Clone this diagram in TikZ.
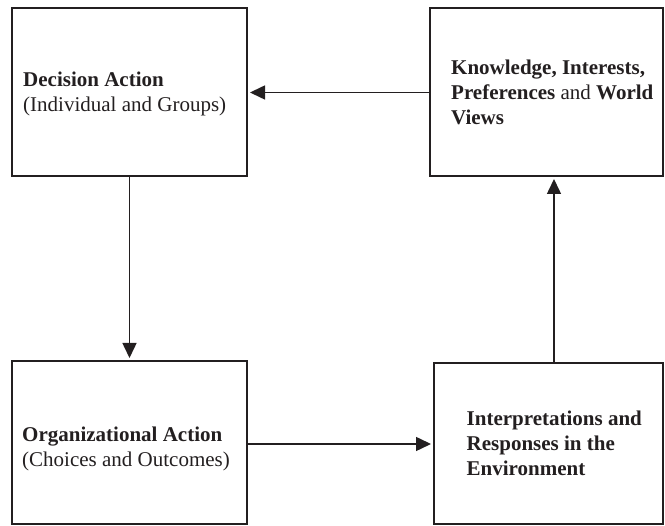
\documentclass[tikz,border=0pt]{standalone}
\usepackage{fontspec}
\setmainfont{Liberation Serif}
\usetikzlibrary{arrows.meta}
\definecolor{ink}{HTML}{231F20}
\begin{document}
\begin{tikzpicture}[x=1pt,y=-1pt,
  box/.style={draw=ink,line width=1.7pt,fill=none},
  label/.style={anchor=north west,inner sep=0pt,align=left,text=ink,
    font=\fontsize{21}{25}\selectfont},
  conn/.style={draw=ink,line width=1.5pt,-{Triangle[length=15pt,width=14pt]},shorten >=3pt}]
\useasboundingbox (0,0) rectangle (665,526);
% boxes
\draw[box] (12,8) rectangle (247,176);
\draw[box] (430,8) rectangle (663,176);
\draw[box] (12,361) rectangle (247,524);
\draw[box] (434,363) rectangle (663,524);
% anchors on box borders
\coordinate (Aright) at (247,92.5);
\coordinate (Abottom) at (129.5,176);
\coordinate (Bleft) at (430,92.5);
\coordinate (Bbottom) at (554,176);
\coordinate (Ctop) at (129.5,361);
\coordinate (Cright) at (247,444);
\coordinate (Dleft) at (434,444);
\coordinate (Dtop) at (554,363);
% texts
\node[label] (ta) at (23,70) {\rule{0pt}{16pt}\textbf{Decision Action}\\(Individual and Groups)};
\node[label] (tb) at (451,58) {\rule{0pt}{16pt}\textbf{Knowledge, Interests,}\\\textbf{Preferences} and \textbf{World}\\\textbf{Views}};
\node[label] (tc) at (22,425) {\rule{0pt}{16pt}\textbf{Organizational Action}\\(Choices and Outcomes)};
\node[label] (td) at (466.5,409.7) {\rule{0pt}{16pt}\textbf{Interpretations and}\\\textbf{Responses in the}\\\textbf{Environment}};
% connectors
\draw[conn] (Bleft) -- (Aright);
\draw[conn] (Abottom) -- (Ctop);
\draw[conn] (Cright) -- (Dleft);
\draw[conn] (Dtop) -- (Bbottom);
\end{tikzpicture}
\end{document}
